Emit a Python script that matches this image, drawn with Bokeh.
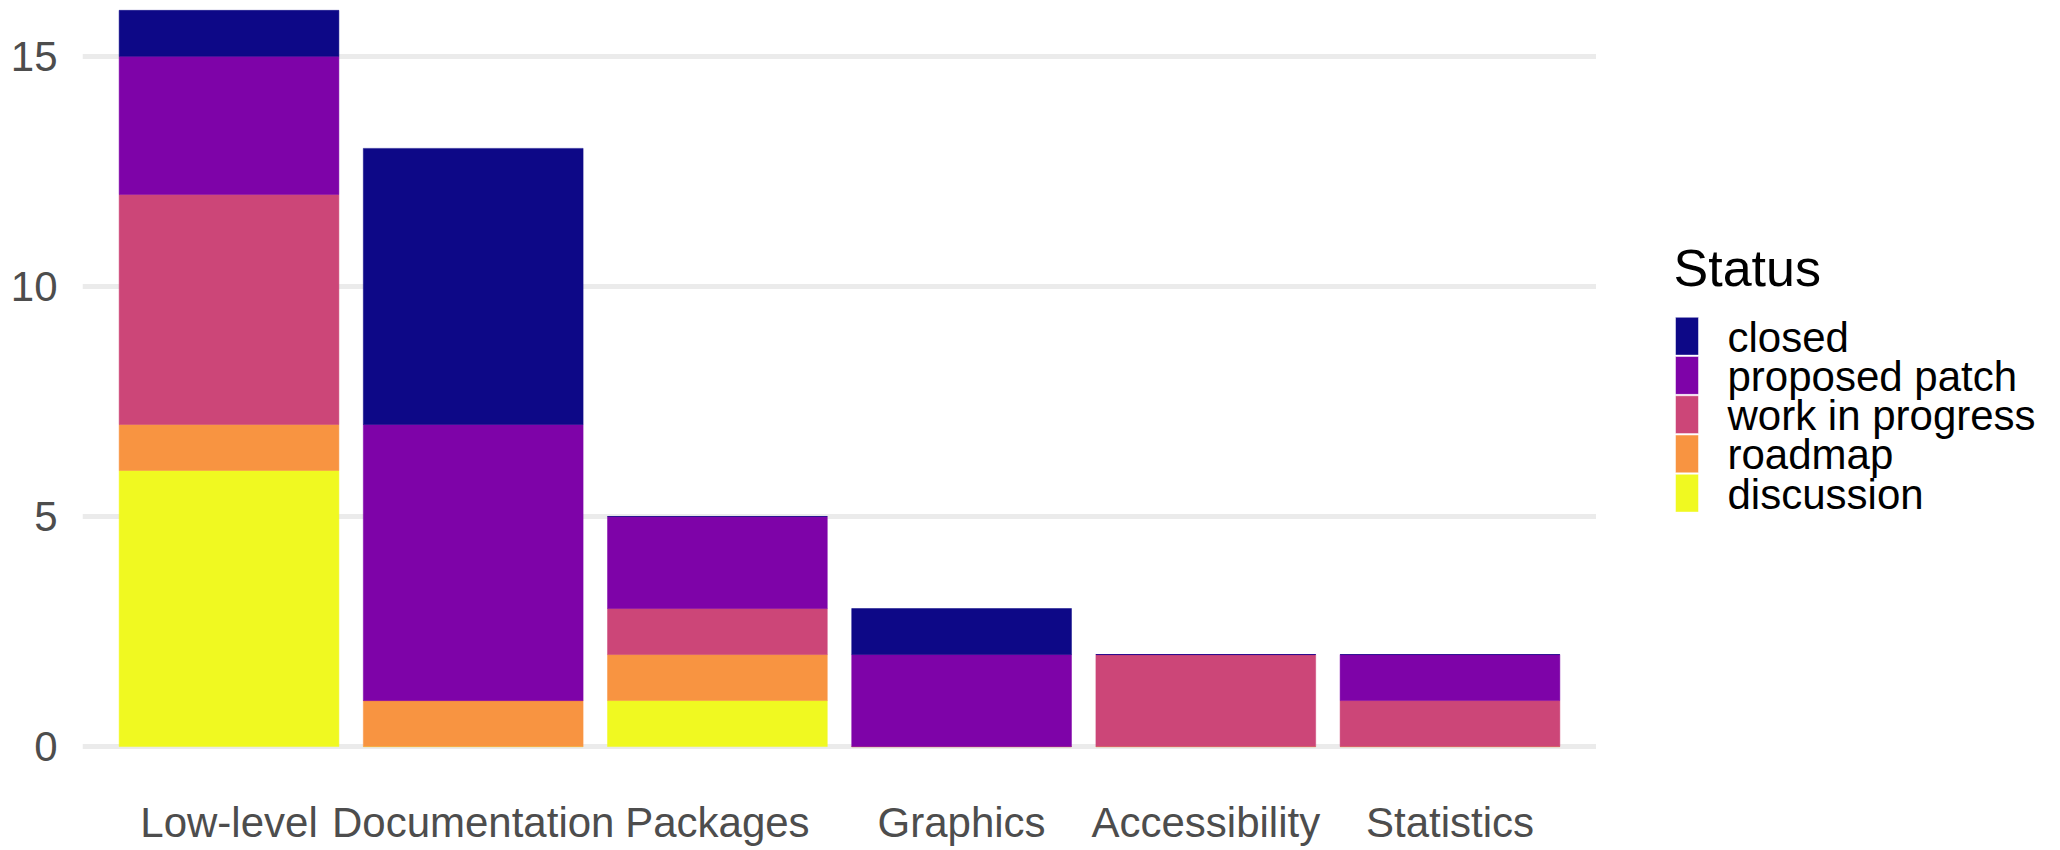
from bokeh.plotting import figure
from bokeh.layouts import row
from bokeh.models import ColumnDataSource, FactorRange, Range1d, FixedTicker
from bokeh.core.properties import value
from bokeh.embed import file_html
from bokeh.resources import INLINE

categories = ["Low-level", "Documentation", "Packages", "Graphics", "Accessibility", "Statistics"]
statuses = ["discussion", "roadmap", "work in progress", "proposed patch", "closed"]
discussion = [6, 0, 1, 0, 0, 0]
roadmap = [1, 1, 1, 0, 0, 0]
work_in_progress = [5, 0, 1, 0, 2, 1]
proposed_patch = [3, 6, 2, 2, 0, 1]
closed = [1, 6, 0, 1, 0, 0]
colors = ["#F0F921", "#F89441", "#CC4678", "#7E03A8", "#0D0887"]
y_ticks = [0, 5, 10, 15]
legend_title = "Status"

src = ColumnDataSource(dict(
    cat=categories,
    discussion=discussion,
    roadmap=roadmap,
    wip=work_in_progress,
    proposed=proposed_patch,
    closed=closed,
))
keys = ["discussion", "roadmap", "wip", "proposed", "closed"]

FONT = "Liberation Sans"
H = 848
TOP, BOTTOM = 8, 82          # frame spans screen y 8 .. 766
W_MAIN = 1596
W_LEG = 2044 - W_MAIN

p = figure(
    x_range=FactorRange(factors=categories, range_padding=0.1, range_padding_units="absolute"),
    y_range=Range1d(-0.368, 16.04),
    width=W_MAIN, height=H,
    output_backend="svg", toolbar_location=None,
    min_border_left=82, min_border_right=0, min_border_top=TOP, min_border_bottom=BOTTOM,
)
p.outline_line_color = None
p.background_fill_color = "white"

p.vbar_stack(keys, x="cat", width=0.9, fill_color=colors, line_color=colors,
             line_width=0.5, source=src)

p.xgrid.grid_line_color = None
p.ygrid.grid_line_color = "#EBEBEB"
p.ygrid.grid_line_width = 5
p.yaxis.ticker = FixedTicker(ticks=y_ticks)

for ax in (p.xaxis[0], p.yaxis[0]):
    ax.axis_line_color = None
    ax.major_tick_line_color = None
    ax.minor_tick_line_color = None
    ax.major_tick_out = 0
    ax.major_tick_in = 0
    ax.axis_label_standoff = 0
    ax.major_label_text_font = FONT
    ax.major_label_text_font_size = "42px"
    ax.major_label_text_color = "#4D4D4D"
p.yaxis.major_label_standoff = 25
p.xaxis.major_label_standoff = 35

# ---- legend canvas (frame aligned with the main frame; y in screen pixels, downward) ----
lp = figure(width=W_LEG, height=H, x_range=Range1d(0, W_LEG), y_range=Range1d(H - BOTTOM, TOP),
            x_axis_type=None, y_axis_type=None, output_backend="svg", toolbar_location=None,
            min_border=0, min_border_top=TOP, min_border_bottom=BOTTOM)
lp.outline_line_color = None
lp.grid.visible = False

order = list(reversed(range(len(statuses))))  # closed on top
pitch, key_h, first_top = 39.4, 38, 318
tops = [first_top + pitch * k for k in range(len(order))]
leg_src = ColumnDataSource(dict(
    label=[statuses[i] for i in order],
    color=[colors[i] for i in order],
    top=tops,
    bottom=[t + key_h for t in tops],
    base=[t + 20 for t in tops],
))
lp.quad(left=79, right=102, top="top", bottom="bottom", fill_color="color",
        line_color="white", line_width=0.5, source=leg_src)
lp.text(x=131, y="base", text="label", source=leg_src, text_font=value(FONT),
        text_font_size="42px", text_color="black", text_baseline="alphabetic")
lp.text(x=[77], y=[269], text=[legend_title], text_font=value(FONT),
        text_font_size="52px", text_color="black", text_baseline="alphabetic")

layout = row(p, lp)
open("out.html", "w").write(file_html(layout, INLINE))
